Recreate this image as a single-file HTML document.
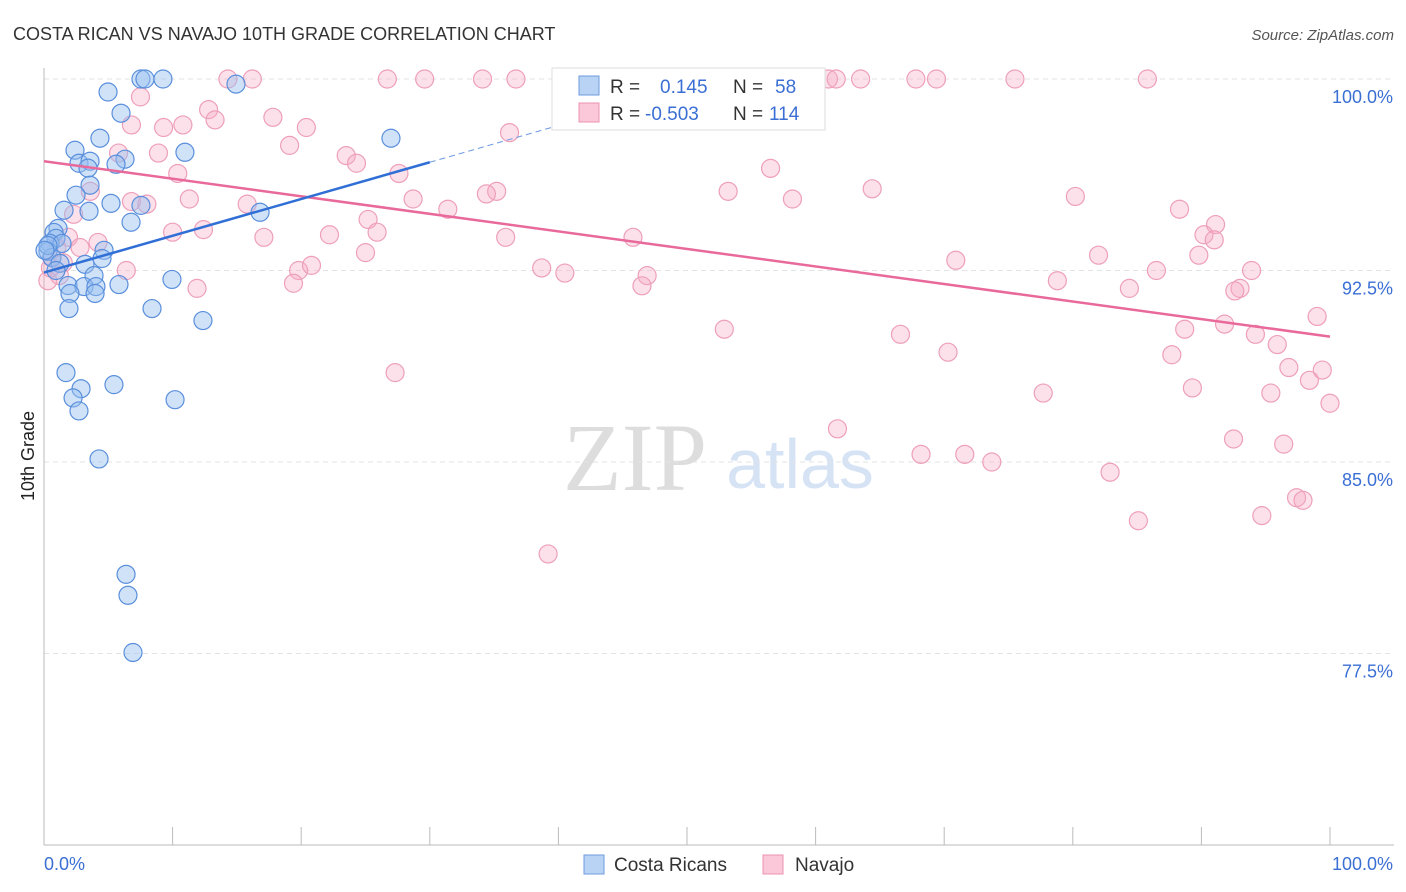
<!DOCTYPE html>
<html><head><meta charset="utf-8"><style>
body{margin:0;background:#fff;font-family:"Liberation Sans",sans-serif;}
svg{display:block}
</style></head><body>
<svg id="chart" width="1406" height="892" xmlns="http://www.w3.org/2000/svg">
<text x="13" y="40" font-size="18" fill="#333">COSTA RICAN VS NAVAJO 10TH GRADE CORRELATION CHART</text>
<text x="1394" y="40" font-size="15" fill="#555" font-style="italic" text-anchor="end">Source: ZipAtlas.com</text>
<text x="0" y="0" font-size="18" fill="#222" transform="translate(34,456) rotate(-90)" text-anchor="middle">10th Grade</text>
<g id="watermark">
<text x="635" y="490" font-size="96" fill="#ddd" font-family="Liberation Serif,serif" text-anchor="middle">ZIP</text>
<text x="800" y="488" font-size="70" fill="#d6e3f5" text-anchor="middle">atlas</text>
</g>
<g id="grid"></g><g id="axes"></g><g id="marks"></g><g id="trends"></g>
<g id="legend">
<rect x="552" y="68" width="273" height="62" fill="#fff" stroke="#ddd"/>
<rect x="579" y="76" width="20" height="19" fill="#b9d3f5" stroke="#6e9be0"/>
<rect x="579" y="103" width="20" height="19" fill="#fac8d8" stroke="#ec93b0"/>
<text x="610" y="93" font-size="19" fill="#333">R = </text><text x="660" y="93" font-size="19" fill="#3b6fd4">0.145</text>
<text x="733" y="93" font-size="19" fill="#333">N = </text><text x="775" y="93" font-size="19" fill="#3b6fd4">58</text>
<text x="610" y="120" font-size="19" fill="#333">R = </text><text x="645" y="120" font-size="19" fill="#3b6fd4">-0.503</text>
<text x="733" y="120" font-size="19" fill="#333">N = </text><text x="769" y="120" font-size="19" fill="#3b6fd4">114</text>
</g>
<g id="bottom-legend">
<rect x="584" y="855" width="20" height="19" fill="#b9d3f5" stroke="#6e9be0"/>
<text x="614" y="871" font-size="19" fill="#333">Costa Ricans</text>
<rect x="763" y="855" width="20" height="19" fill="#fac8d8" stroke="#ec93b0"/>
<text x="795" y="871" font-size="19" fill="#333">Navajo</text>
</g>
</svg>
<script>
const yTicks=[100,92.5,85,77.5];
const yTickLabels=["100.0%","92.5%","85.0%","77.5%"];
const xTickCount=10;
const blueX=[7.54,7.85,9.25,14.93,4.98,5.99,4.35,26.98,2.41,10.96,2.72,3.58,6.30,5.60,3.42,3.58,2.49,5.21,7.54,16.80,1.56,3.50,6.77,1.09,0.78,0.93,0.47,1.40,4.67,0.31,0.62,1.24,3.19,4.51,3.89,1.87,3.11,4.04,5.83,2.02,3.97,9.95,1.94,8.40,12.36,1.71,2.88,5.44,2.26,2.72,10.19,4.28,6.38,6.53,6.92,0.31,0.08,0.93];
const blueY=[100,100,100,99.8,99.49,98.66,97.68,97.68,97.21,97.13,96.7,96.78,96.86,96.66,96.51,95.84,95.45,95.13,95.05,94.78,94.86,94.82,94.39,94.15,93.99,93.76,93.56,93.56,93.29,93.25,93.01,92.78,92.74,92.97,92.3,91.91,91.87,91.87,91.95,91.6,91.6,92.15,91.01,91.01,90.54,88.5,87.87,88.03,87.51,87.0,87.44,85.12,80.6,79.78,77.54,93.48,93.29,92.5];
const pinkX=[14.3,16.2,26.7,29.6,34.1,36.7,52.4,61.0,61.6,63.5,67.8,69.4,75.5,85.8,7.5,12.8,13.3,6.8,9.3,10.8,17.8,20.4,19.1,5.8,8.9,10.4,23.5,24.3,27.6,36.2,56.5,53.2,64.4,58.2,80.2,88.3,91.1,90.2,91.0,35.2,34.4,28.7,31.4,6.8,8.0,11.3,15.8,3.6,2.3,25.2,25.9,22.2,12.4,17.1,10.0,4.2,1.9,2.8,1.0,45.8,35.9,25.0,70.9,82.0,86.5,89.8,93.9,93.0,92.6,78.8,84.4,38.7,40.5,46.9,46.5,19.8,20.8,19.4,11.9,6.4,1.2,0.3,0.5,52.9,66.6,70.3,87.7,88.7,91.8,94.2,95.9,99.0,96.8,99.4,98.4,89.3,95.4,77.7,100,27.3,61.7,68.2,71.6,73.7,92.5,96.4,82.9,85.1,94.7,97.4,97.9,39.2,0.6,1.5];
const pinkY=[100,100,100,100,100,100,100,100,100,100,100,100,100,100,99.3,98.8,98.4,98.2,98.1,98.2,98.5,98.1,97.4,97.1,97.1,96.3,97.0,96.7,96.3,97.9,96.5,95.6,95.7,95.3,95.4,94.9,94.3,93.9,93.7,95.6,95.5,95.3,94.9,95.2,95.1,95.3,95.1,95.6,94.7,94.5,94.0,93.9,94.1,93.8,94.0,93.6,93.8,93.4,93.4,93.8,93.8,93.2,92.9,93.1,92.5,93.1,92.5,91.8,91.7,92.1,91.8,92.6,92.4,92.3,91.9,92.5,92.7,92.0,91.8,92.5,92.3,92.1,92.6,90.2,90.0,89.3,89.2,90.2,90.4,90.0,89.6,90.7,88.7,88.6,88.2,87.9,87.7,87.7,87.3,88.5,86.3,85.3,85.3,85.0,85.9,85.7,84.6,82.7,82.9,83.6,83.5,81.4,93.0,92.8];
const blueTrend=[[0,92.42],[30,96.74]];
const blueTrendDash=[[30,96.74],[40,98.18]];
const pinkTrend=[[0,96.78],[100,89.91]];
const NS="http://www.w3.org/2000/svg";
const X0=44,X1=1330,Y0=845,Y1=79;
function sx(v){return X0+(X1-X0)*v/100;}
function sy(v){return Y0-(Y0-Y1)*(v-70)/30;}
function mk(tag,attrs,parent){const e=document.createElementNS(NS,tag);for(const k in attrs)e.setAttribute(k,attrs[k]);document.getElementById(parent).appendChild(e);return e;}
yTicks.forEach((t,i)=>{
 const g=mk('line',{x1:X0,x2:1394,y1:sy(t),y2:sy(t),stroke:'#e3e3e3','stroke-dasharray':'5,4'},'grid');
 
 
 const l=mk('text',{x:1393,y:sy(t)+24,'font-size':18,fill:'#3b6fd4','text-anchor':'end'},'axes');
 l.textContent=yTickLabels[i];
 
 
});
let ax=mk('line',{x1:X0,x2:X0,y1:68,y2:Y0,stroke:'#bbb'},'axes');


ax=mk('line',{x1:X0,x2:1394,y1:Y0,y2:Y0,stroke:'#bbb'},'axes');


for(let i=0;i<=xTickCount;i++){const t=mk('line',{x1:sx(i*10),x2:sx(i*10),y1:827,y2:Y0,stroke:'#bbb'},'axes');
 
 }
let xl=mk('text',{x:44,y:870,'font-size':18,fill:'#3b6fd4'},'axes');xl.textContent='0.0%';


xl=mk('text',{x:1393,y:870,'font-size':18,fill:'#3b6fd4','text-anchor':'end'},'axes');xl.textContent='100.0%';


pinkX.forEach((v,i)=>{const c=mk('circle',{cx:sx(v),cy:sy(pinkY[i]),r:9,fill:'rgba(246,170,195,0.35)',stroke:'#ee9fba','stroke-width':1.2},'marks');
 
 });
blueX.forEach((v,i)=>{const c=mk('circle',{cx:sx(v),cy:sy(blueY[i]),r:9,fill:'rgba(150,190,240,0.45)',stroke:'#5a8fdc','stroke-width':1.2},'marks');
 
 });
let t=mk('line',{x1:sx(pinkTrend[0][0]),y1:sy(pinkTrend[0][1]),x2:sx(pinkTrend[1][0]),y2:sy(pinkTrend[1][1]),stroke:'#e8699a','stroke-width':2.5},'trends');


t=mk('line',{x1:sx(blueTrend[0][0]),y1:sy(blueTrend[0][1]),x2:sx(blueTrend[1][0]),y2:sy(blueTrend[1][1]),stroke:'#2f6fd6','stroke-width':2.5},'trends');


t=mk('line',{x1:sx(blueTrendDash[0][0]),y1:sy(blueTrendDash[0][1]),x2:sx(blueTrendDash[1][0]),y2:sy(blueTrendDash[1][1]),stroke:'#6e9be0','stroke-width':1,'stroke-dasharray':'6,4'},'trends');


const svg=document.getElementById('chart');svg.appendChild(document.getElementById('legend'));
</script>
</body></html>
